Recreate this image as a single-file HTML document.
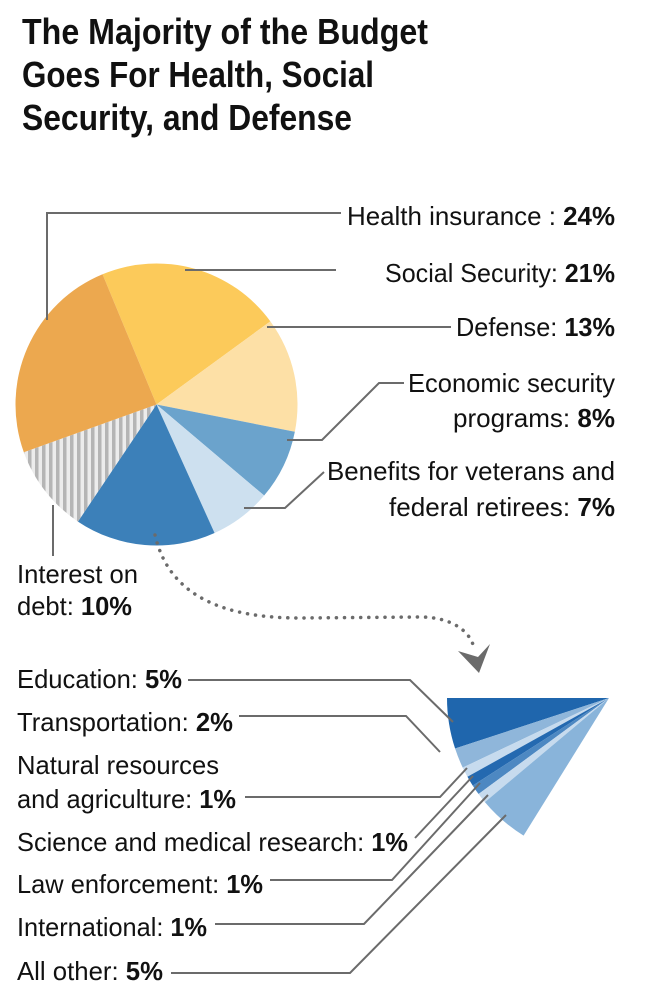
<!DOCTYPE html>
<html><head><meta charset="utf-8"><style>
html,body{margin:0;padding:0;background:#fff;}
svg{display:block;}
text{font-family:"Liberation Sans",sans-serif;fill:#111;}
.lab{font-size:26px;}
.ttl{font-size:36px;font-weight:bold;}
.b{font-weight:bold;}
.ld{fill:none;stroke:#6b6b6b;stroke-width:2;}
</style></head><body>
<svg id="chart" width="659" height="1000" viewBox="0 0 659 1000">
<defs>
<pattern id="stripes" width="7" height="10" patternUnits="userSpaceOnUse">
<rect width="7" height="10" fill="#ececec"/><rect width="3.5" height="10" fill="#b5b5b5"/>
</pattern>
</defs>
<g>
<text class="ttl" x="22" y="44" textLength="406" lengthAdjust="spacingAndGlyphs">The Majority of the Budget</text>
<text class="ttl" x="22" y="87" textLength="352" lengthAdjust="spacingAndGlyphs">Goes For Health, Social</text>
<text class="ttl" x="22" y="130" textLength="330" lengthAdjust="spacingAndGlyphs">Security, and Defense</text>
</g>
<g id="pie"></g>
<g id="fan"></g>
<g>
<polyline class="ld" points="341,213 47,213 47,320"/>
<polyline class="ld" points="336,270 185,270"/>
<polyline class="ld" points="451,327 267,327"/>
<polyline class="ld" points="404,383 379,383 322,440 287,440"/>
<polyline class="ld" points="324,472 285,508 244,508"/>
<polyline class="ld" points="53,505 53,556"/>
<polyline class="ld" points="188,680 410,680 453,722"/>
<polyline class="ld" points="239,716 406,716 440,752"/>
<polyline class="ld" points="245,797 440,797 467,768"/>
<polyline class="ld" points="415,838 473,776"/>
<polyline class="ld" points="270,880 392,880 480,783"/>
<polyline class="ld" points="215,924 364,924 488,795"/>
<polyline class="ld" points="171,973 350,973 506,815"/>
</g>
<g>
<path d="M155,535 C170,600 230,618 300,618 L420,617 C450,617 470,630 474,648" fill="none" stroke="#6b6b6b" stroke-width="3.5" stroke-linecap="round" stroke-dasharray="0.1 8"/>
<polygon points="458,651 478,657 490,644 479,673" fill="#6b6b6b"/>
</g>
<g>
<text class="lab" x="615" y="225" text-anchor="end" textLength="268" lengthAdjust="spacingAndGlyphs">Health insurance : <tspan class="b">24%</tspan></text>
<text class="lab" x="615" y="282" text-anchor="end" textLength="230" lengthAdjust="spacingAndGlyphs">Social Security: <tspan class="b">21%</tspan></text>
<text class="lab" x="615" y="336" text-anchor="end" textLength="159" lengthAdjust="spacingAndGlyphs">Defense: <tspan class="b">13%</tspan></text>
<text class="lab" x="615" y="392" text-anchor="end" textLength="207" lengthAdjust="spacingAndGlyphs">Economic security</text>
<text class="lab" x="615" y="427" text-anchor="end" textLength="162" lengthAdjust="spacingAndGlyphs">programs: <tspan class="b">8%</tspan></text>
<text class="lab" x="615" y="480" text-anchor="end" textLength="288" lengthAdjust="spacingAndGlyphs">Benefits for veterans and</text>
<text class="lab" x="615" y="516" text-anchor="end" textLength="226" lengthAdjust="spacingAndGlyphs">federal retirees: <tspan class="b">7%</tspan></text>
<text class="lab" x="17" y="583" textLength="121" lengthAdjust="spacingAndGlyphs">Interest on</text>
<text class="lab" x="17" y="615" textLength="115" lengthAdjust="spacingAndGlyphs">debt: <tspan class="b">10%</tspan></text>
</g>
<g>
<text class="lab" x="17" y="688" textLength="165" lengthAdjust="spacingAndGlyphs">Education: <tspan class="b">5%</tspan></text>
<text class="lab" x="17" y="731" textLength="216" lengthAdjust="spacingAndGlyphs">Transportation: <tspan class="b">2%</tspan></text>
<text class="lab" x="17" y="774" textLength="202" lengthAdjust="spacingAndGlyphs">Natural resources</text>
<text class="lab" x="17" y="808" textLength="219" lengthAdjust="spacingAndGlyphs">and agriculture: <tspan class="b">1%</tspan></text>
<text class="lab" x="17" y="851" textLength="391" lengthAdjust="spacingAndGlyphs">Science and medical research: <tspan class="b">1%</tspan></text>
<text class="lab" x="17" y="893" textLength="246" lengthAdjust="spacingAndGlyphs">Law enforcement: <tspan class="b">1%</tspan></text>
<text class="lab" x="17" y="936" textLength="190" lengthAdjust="spacingAndGlyphs">International: <tspan class="b">1%</tspan></text>
<text class="lab" x="17" y="980" textLength="146" lengthAdjust="spacingAndGlyphs">All other: <tspan class="b">5%</tspan></text>
</g>
</svg>
<script>
const pieCategories = ["social-security","defense","economic-security","veterans","other-group","interest","health"];
const pieValues = [21, 13, 8, 7, 16, 10, 24];
const pieColors = ["#fcca5a","#fde0a6","#6ba3cc","#cde0ef","#3c80b9","url(#stripes)","#eca84f"];
const fanCategories = ["education","transportation","natural-resources","science","law-enforcement","international","all-other"];
const fanValues = [5, 2, 1, 1, 1, 1, 5];
const fanColors = ["#1f66ad","#8fb6da","#c7dbee","#2469b0","#4d88c2","#c7dbee","#89b4da"];

const NS = "http://www.w3.org/2000/svg";
function pt(cx, cy, r, deg){ const a = deg*Math.PI/180; return [cx + r*Math.sin(a), cy - r*Math.cos(a)]; }
function wedge(cx, cy, r, a0, a1){
  const p0 = pt(cx,cy,r,a0), p1 = pt(cx,cy,r,a1);
  const large = (a1-a0) > 180 ? 1 : 0;
  return `M${cx},${cy} L${p0[0]},${p0[1]} A${r},${r} 0 ${large} 1 ${p1[0]},${p1[1]} Z`;
}
// main pie: clockwise from -22.5deg
(function(){
  const g = document.getElementById('pie');
  const total = pieValues.reduce((a,b)=>a+b,0);
  let a = -22.5;
  pieValues.forEach((v,i)=>{
    const span = v/total*360;
    const p = document.createElementNS(NS,'path');
    p.setAttribute('d', wedge(156.5,404.5,141,a,a+span));
    p.setAttribute('fill', pieColors[i]);
    
    
    g.appendChild(p);
    a += span;
  });
})();
// fan: apex (609,698), starts pointing left, sweeps counter-clockwise (toward bottom-left)
(function(){
  const g = document.getElementById('fan');
  const total = fanValues.reduce((a,b)=>a+b,0);
  const sweep = total/ pieValues.reduce((a,b)=>a+b,0) * 360;
  let a = 270; // pointing left in north-clockwise coordinates
  fanValues.forEach((v,i)=>{
    const span = v/total*sweep;
    const p = document.createElementNS(NS,'path');
    p.setAttribute('d', wedge(609,698,162,a-span,a));
    p.setAttribute('fill', fanColors[i]);
    
    
    g.appendChild(p);
    a -= span;
  });
})();
</script>
</body></html>
